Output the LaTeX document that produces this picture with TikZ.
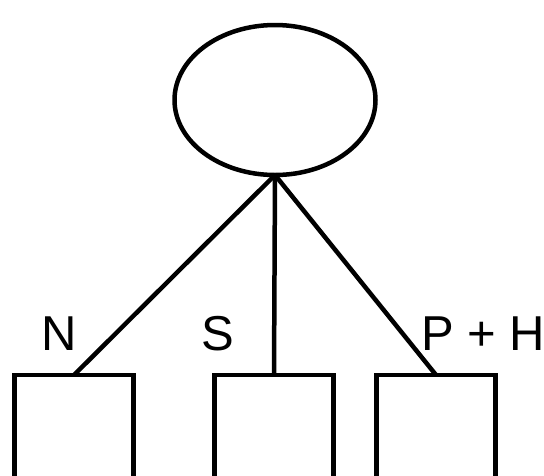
\documentclass[tikz,border=0pt]{standalone}
\usepackage{fontspec}
\setmainfont{Liberation Sans}
\usetikzlibrary{shapes.geometric}
\begin{document}
\begin{tikzpicture}[x=1pt,y=-1pt,line width=4.5pt,
  rootnode/.style={draw,ellipse,minimum width=201pt,minimum height=150pt,inner sep=0pt,outer sep=0pt},
  leafbox/.style={draw,rectangle,minimum width=119pt,minimum height=120pt,inner sep=0pt,outer sep=0pt,anchor=north},
  edgelabel/.style={anchor=base west,inner sep=0pt,font=\fontsize{49}{49}\selectfont}]
  \useasboundingbox (0,0) rectangle (544,475);
  \node[rootnode] (root) at (275,100) {};
  \node[leafbox] (n) at (74,375) {};
  \node[leafbox] (s) at (274,375) {};
  \node[leafbox] (p) at (436,375) {};
  \draw (root.south) -- (n.north);
  \draw (root.south) -- (s.north);
  \draw (root.south) -- (p.north);
  \node[edgelabel] (ln) at (39,350) {N};
  \node[edgelabel] (ls) at (199,350) {S};
  \node[edgelabel] (lp) at (419,350) {P + H};
\end{tikzpicture}
\end{document}
